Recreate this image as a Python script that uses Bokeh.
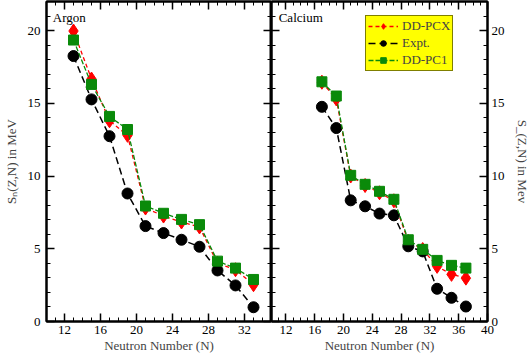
from bokeh.plotting import figure
from bokeh.layouts import row
from bokeh.models import (Range1d, FixedTicker, LinearAxis, Label, Legend, LegendItem,
                          CustomJSTickFormatter)
from bokeh.embed import file_html
from bokeh.resources import INLINE

# ---------------- data ----------------
ar_N = [13, 15, 17, 19, 21, 23, 25, 27, 29, 31, 33]
ar_pcx = [19.97, 16.67, 13.80, 12.80, 7.80, 7.25, 6.84, 6.50, 4.00, 3.56, 2.53]
ar_expt = [18.25, 15.27, 12.74, 8.80, 6.56, 6.08, 5.62, 5.14, 3.51, 2.48, 0.98]
ar_pc1 = [19.35, 16.30, 14.10, 13.20, 7.94, 7.44, 7.02, 6.66, 4.15, 3.67, 2.89]

ca_N = [17, 19, 21, 23, 25, 27, 29, 31, 33, 35, 37]
ca_pcx = [16.45, 15.30, 10.00, 9.35, 8.85, 8.30, 5.50, 4.95, 3.79, 3.24, 2.98]
ca_expt = [14.76, 13.30, 8.33, 7.92, 7.42, 7.30, 5.17, 4.82, 2.25, 1.63, 1.03]
ca_pc1 = [16.48, 15.50, 10.05, 9.43, 8.95, 8.40, 5.62, 4.96, 4.20, 3.86, 3.67]

x_major = [12, 16, 20, 24, 28, 32, 36, 40]
y_major = [0, 5, 10, 15, 20]
series_names = ["DD-PCX", "Expt.", "DD-PC1"]

FONT = "'Liberation Serif'"
FS = "13px"
RED = "#ff0000"
BLACK = "#000000"
GREEN = "#0a8a0a"

x_minor = [v for v in range(10, 41) if v not in x_major]
y_minor = [v for v in range(0, 23) if v not in y_major]


def style_axis(ax, labels=True):
    ax.axis_line_width = 2
    ax.axis_line_color = "black"
    ax.major_tick_in = 8
    ax.major_tick_out = 0
    ax.minor_tick_in = 4
    ax.minor_tick_out = 0
    ax.major_tick_line_width = 1.5
    ax.minor_tick_line_width = 1
    ax.major_label_text_font = FONT
    ax.major_label_text_font_size = FS
    ax.major_label_text_color = "black"
    ax.major_label_standoff = 5 if labels else 0
    if not labels:
        ax.formatter = CustomJSTickFormatter(code="return '';")
    ax.axis_label_text_font = FONT
    ax.axis_label_text_font_size = FS
    ax.axis_label_text_font_style = "normal"


def make_panel(xmax, width, left_b, right_b, N, pcx, expt, pc1, name, side):
    p = figure(width=width, height=356, output_backend="svg", toolbar_location=None,
               x_range=Range1d(10, xmax), y_range=Range1d(0, 22),
               min_border_left=left_b, min_border_right=right_b,
               min_border_top=1, min_border_bottom=35,
               x_axis_location=None, y_axis_location=None)
    p.outline_line_color = "black"
    p.outline_line_width = 2
    p.grid.visible = False
    p.background_fill_color = "white"
    p.border_fill_color = "white"

    xt = FixedTicker(ticks=[t for t in x_major if t <= xmax], minor_ticks=[t for t in x_minor if t <= xmax])
    yt = FixedTicker(ticks=y_major, minor_ticks=y_minor)

    xb = LinearAxis(ticker=xt, axis_label="Neutron Number (N)")
    style_axis(xb)
    xb.major_label_standoff = 4
    xb.axis_label_standoff = 1
    p.add_layout(xb, "below")
    xa = LinearAxis(ticker=xt)
    style_axis(xa, labels=False)
    p.add_layout(xa, "above")

    if side == "left":
        yl = LinearAxis(ticker=yt, axis_label="Sₙ(Z,N) in MeV")
        style_axis(yl)
        yl.major_label_standoff = 6
        yl.axis_label_standoff = 6
        p.add_layout(yl, "left")
        yr = LinearAxis(ticker=yt)
        style_axis(yr, labels=False)
        p.add_layout(yr, "right")
    else:
        yl = LinearAxis(ticker=yt)
        style_axis(yl, labels=False)
        p.add_layout(yl, "left")
        yr = LinearAxis(ticker=yt, axis_label="S_(Z,N) in Mev")
        style_axis(yr)
        yr.major_label_standoff = 4
        yr.axis_label_standoff = 7
        p.add_layout(yr, "right")

    r_pcx_l = p.line(N, pcx, line_color=RED, line_width=1.3, line_dash="4 3")
    r_pcx_m = p.scatter(N, pcx, marker="diamond", size=14, fill_color=RED, line_color=RED)
    r_exp_l = p.line(N, expt, line_color=BLACK, line_width=1.5, line_dash="7 4")
    r_exp_m = p.scatter(N, expt, marker="circle", size=11, fill_color=BLACK, line_color=BLACK)
    r_pc1_l = p.line(N, pc1, line_color=GREEN, line_width=1.3, line_dash="5 2")
    r_pc1_m = p.scatter(N, pc1, marker="square", size=10, fill_color=GREEN, line_color=GREEN)

    p.add_layout(Label(x=10.7 if side == "left" else 11.0, y=20.9, text=name,
                       text_font=FONT, text_font_size=FS, text_baseline="middle",
                       text_color="black"))
    return p, [(r_pcx_l, r_pcx_m), (r_exp_l, r_exp_m), (r_pc1_l, r_pc1_m)]


p1, _ = make_panel(35, 271, 45, 0, ar_N, ar_pcx, ar_expt, ar_pc1, "Argon", "left")
p2, rends = make_panel(40, 261, 0, 33, ca_N, ca_pcx, ca_expt, ca_pc1, "Calcium", "right")

items = [LegendItem(label=n, renderers=list(r)) for n, r in zip(series_names, rends)]
leg = Legend(items=items, location=(94, 250), orientation="vertical",
             background_fill_color="#ffff00", background_fill_alpha=1.0,
             border_line_color="black", border_line_width=1,
             label_text_font=FONT, label_text_font_size=FS,
             label_standoff=4, glyph_width=30, glyph_height=14,
             spacing=1, padding=2, margin=0, label_height=14)
p2.add_layout(leg, "center")

layout = row(p1, p2)

open("out.html", "w").write(file_html(layout, INLINE))
